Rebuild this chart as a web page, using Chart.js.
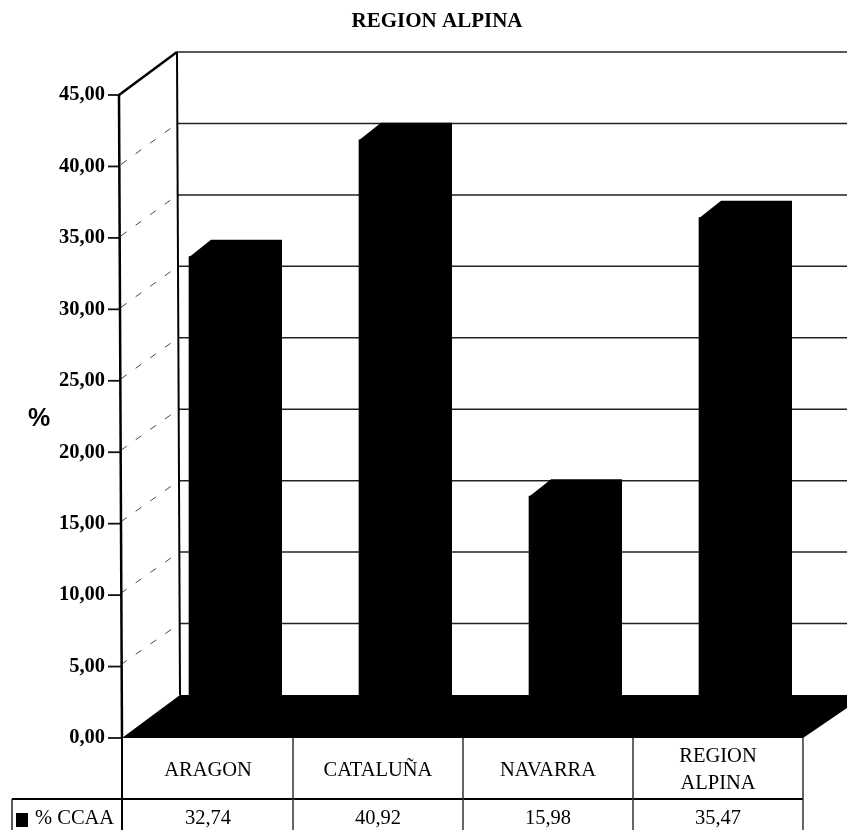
<!DOCTYPE html>
<html lang="es">
<head>
<meta charset="utf-8">
<title>REGION ALPINA</title>
<script src="https://cdn.jsdelivr.net/npm/chart.js@4"></script>
<style>
    html, body { margin: 0; padding: 0; background: #fff; overflow: hidden; }
    canvas { display: block; }
</style>
</head>
<body>
<canvas id="grafico" width="847" height="830"></canvas>
<script>
const categorias = ['ARAGON', 'CATALUÑA', 'NAVARRA', ['REGION', 'ALPINA']];
const porcentajes = [32.74, 40.92, 15.98, 35.47];
const nombreSerie = '% CCAA';
const titulo = 'REGION ALPINA';
const tituloEjeY = '%';
const valoresEjeY = [0, 5, 10, 15, 20, 25, 30, 35, 40, 45];

const fuente = '"Liberation Serif", "Times New Roman", serif';
const NEGRO = '#000';

// Profundidad de la pared del fondo respecto al plano frontal
const FONDO_X = 58;
const FONDO_Y = -43;
// Desplazamiento y profundidad de las barras
const BARRA_X = 16.5;
const BARRA_Y = -13.5;
const BARRA_PROF_X = 22;
const BARRA_PROF_Y = -17;

function formatoComa(v) {
    return v.toFixed(2).replace('.', ',');
}

function linea(ctx, x1, y1, x2, y2, ancho, color) {
    ctx.beginPath();
    ctx.moveTo(x1, y1);
    ctx.lineTo(x2, y2);
    ctx.lineWidth = ancho;
    ctx.strokeStyle = color;
    ctx.stroke();
}

function poligono(ctx, puntos) {
    ctx.beginPath();
    puntos.forEach((p, i) => i ? ctx.lineTo(p[0], p[1]) : ctx.moveTo(p[0], p[1]));
    ctx.closePath();
    ctx.fillStyle = NEGRO;
    ctx.fill();
}

// Paredes, suelo 3D y tabla de datos
const paredes = {
    id: 'paredes',
    beforeDatasetsDraw(chart) {
        const { ctx, chartArea: area, scales: { y } } = chart;
        ctx.save();
        valoresEjeY.forEach(v => {
            const py = y.getPixelForValue(v);
            const inclinado = 3 * (1 - v / 45);
            // Línea horizontal en la pared del fondo
            if (v > 0) {
                linea(ctx, area.left - 4 + FONDO_X + inclinado, py + FONDO_Y, chart.width, py + FONDO_Y, 1.5, '#222');
            }
            // Línea discontinua en la pared lateral
            if (v > 0 && v < 45) {
                ctx.setLineDash([7, 11]);
                linea(ctx, area.left - 2, py - 2, area.left - 4 + FONDO_X + inclinado, py + FONDO_Y, 0.9, '#333');
                ctx.setLineDash([]);
            }
            // Marca del eje
            linea(ctx, 108, py, area.left - 4 + inclinado, py, 1.8, '#111');
        });
        // Aristas del eje y de la pared
        const arriba = y.getPixelForValue(45);
        const abajo = y.getPixelForValue(0);
        linea(ctx, area.left - 4, arriba, area.left - 1, abajo, 2.5, NEGRO);
        linea(ctx, area.left - 4 + FONDO_X, arriba + FONDO_Y, area.left - 1 + FONDO_X, abajo + FONDO_Y, 2, NEGRO);
        linea(ctx, area.left - 4, arriba, area.left - 4 + FONDO_X, arriba + FONDO_Y, 2.5, NEGRO);
        ctx.restore();
    },
    beforeDatasetDraw(chart) {
        chart.ctx.save();
        chart.ctx.translate(BARRA_X, BARRA_Y);
    },
    afterDatasetDraw(chart, args) {
        const { ctx, scales: { y } } = chart;
        // Cara superior y lateral de cada barra
        args.meta.data.forEach(barra => {
            const izq = barra.x - barra.width / 2;
            const der = barra.x + barra.width / 2;
            const base = y.getPixelForValue(0);
            poligono(ctx, [
                [izq, barra.y + 0.5],
                [izq + BARRA_PROF_X, barra.y + BARRA_PROF_Y],
                [der + BARRA_PROF_X, barra.y + BARRA_PROF_Y],
                [der + BARRA_PROF_X, base],
                [der, base]
            ]);
        });
        ctx.restore();
    },
    afterDatasetsDraw(chart) {
        const { ctx, chartArea: area, scales: { x, y } } = chart;
        const abajo = y.getPixelForValue(0);
        ctx.save();
        // Suelo
        poligono(ctx, [
            [area.left - 1, abajo],
            [area.left - 1 + FONDO_X, abajo + FONDO_Y],
            [chart.width, abajo + FONDO_Y],
            [chart.width, abajo - 30],
            [area.right, abajo]
        ]);

        // Tabla de datos
        const filaY = abajo + 61;
        const finY = chart.height;
        const paso = (area.right - area.left) / categorias.length;
        linea(ctx, 12, filaY, area.right, filaY, 2, NEGRO);
        linea(ctx, 12, filaY, 12, finY, 1.5, '#222');
        linea(ctx, area.left - 1, abajo, area.left - 1, finY, 2, NEGRO);
        categorias.forEach((c, i) => {
            const xDer = area.left + paso * (i + 1);
            linea(ctx, xDer, abajo, xDer, finY, 1.5, '#333');
        });

        ctx.fillStyle = NEGRO;
        ctx.font = '20.5px ' + fuente;
        ctx.textBaseline = 'middle';
        ctx.textAlign = 'center';
        porcentajes.forEach((v, i) => {
            ctx.fillText(formatoComa(v), x.getPixelForValue(i), filaY + 20);
        });
        ctx.textAlign = 'left';
        ctx.fillText(nombreSerie, 35, filaY + 20);
        ctx.fillRect(16, filaY + 14, 12, 14);

        // Título del gráfico
        ctx.font = 'bold 21px ' + fuente;
        ctx.textAlign = 'center';
        ctx.fillText(titulo, 437, 22);

        // Título del eje Y, sin girar
        ctx.font = 'bold 25px "Liberation Sans", Arial, sans-serif';
        ctx.fillText(tituloEjeY, 39, 419);
        ctx.restore();
    }
};

const ctx = document.getElementById('grafico').getContext('2d');
new Chart(ctx, {
    type: 'bar',
    plugins: [paredes],
    data: {
        labels: categorias,
        datasets: [{
            label: nombreSerie,
            data: porcentajes,
            backgroundColor: NEGRO,
            borderWidth: 0,
            barThickness: 71
        }]
    },
    options: {
        responsive: false,
        animation: false,
        layout: {
            autoPadding: false,
            padding: { top: 95, right: 44, bottom: 0, left: 0 }
        },
        plugins: {
            legend: { display: false },
            tooltip: { enabled: false }
        },
        scales: {
            x: {
                afterFit(scale) { scale.height = 92; },
                grid: { display: false },
                border: { display: false },
                ticks: {
                    color: NEGRO,
                    crossAlign: 'center',
                    maxRotation: 0,
                    autoSkip: false,
                    padding: 11,
                    font: { family: fuente, size: 20.5, lineHeight: 1.3 }
                }
            },
            y: {
                min: 0,
                max: 45,
                afterFit(scale) { scale.width = 123; },
                afterBuildTicks(scale) { scale.ticks = valoresEjeY.map(v => ({ value: v })); },
                grid: { display: false },
                border: { display: false },
                ticks: {
                    color: NEGRO,
                    padding: 10,
                    font: { family: fuente, size: 20.5, weight: 'bold' },
                    callback: v => formatoComa(v)
                }
            }
        }
    }
});
</script>
</body>
</html>
